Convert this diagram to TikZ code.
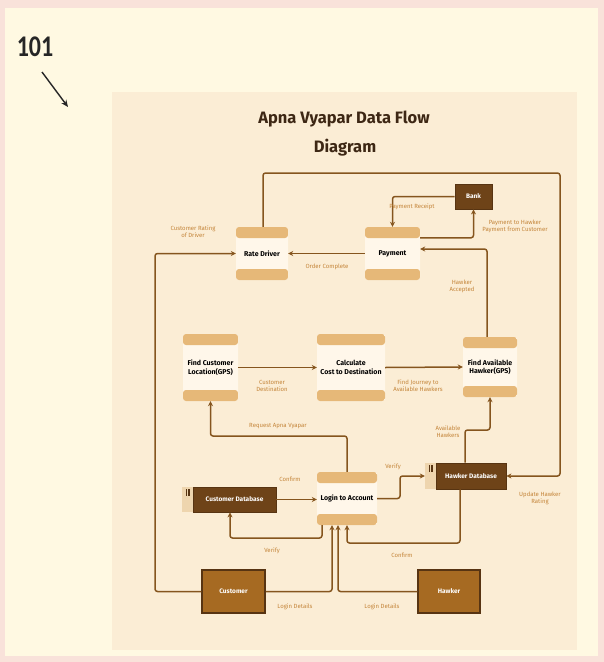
\documentclass[tikz,border=0pt]{standalone}
\usepackage{fontspec}
\setmainfont{Fira Sans}
\newfontfamily\numfont{Carlito}
\usetikzlibrary{arrows.meta,calc}
\definecolor{pinkbg}{HTML}{F9E2DA}
\definecolor{creambg}{HTML}{FFF9E2}
\definecolor{panelbg}{HTML}{FBEDD5}
\definecolor{titlec}{HTML}{3D2714}
\definecolor{barc}{HTML}{E6B878}
\definecolor{midc}{HTML}{FFF7EA}
\definecolor{linec}{HTML}{85551E}
\definecolor{labc}{HTML}{C4853A}
\definecolor{dbc}{HTML}{6E4318}
\definecolor{entc}{HTML}{A66A22}
\definecolor{entb}{HTML}{573412}
\definecolor{tabc}{HTML}{EED5AE}
\begin{document}
\begin{tikzpicture}[x=1pt,y=-1pt,
  proc/.style={rectangle, rounded corners=3pt, fill=midc, inner sep=0pt, align=center,
    font=\fontsize{7}{8.5}\selectfont\bfseries, text=black,
    path picture={
      \fill[barc] (path picture bounding box.north west) rectangle ([yshift=-11pt]path picture bounding box.north east);
      \fill[barc] (path picture bounding box.south west) rectangle ([yshift=11pt]path picture bounding box.south east);}},
  store/.style={rectangle, fill=dbc, draw=entb, line width=0.8pt, inner sep=0pt, text=white,
    font=\fontsize{6.5}{8}\selectfont\bfseries},
  storetab/.style={rectangle, fill=tabc, inner sep=0pt},
  entity/.style={rectangle, fill=entc, draw=entb, line width=1.5pt, inner sep=0pt, text=white,
    font=\fontsize{6.5}{8}\selectfont\bfseries},
  flow/.style={draw=linec, line width=1.5pt, rounded corners=2.5pt,
    -{Stealth[length=5pt,width=5pt]}},
  lab/.style={font=\fontsize{6}{7}\selectfont, text=labc, inner sep=0pt, align=center}
]
% backgrounds
\fill[pinkbg] (0,0) rectangle (604,662);
\fill[creambg] (5,8) rectangle (598,656);
\fill[panelbg] (112,92) rectangle (577,650);
\useasboundingbox (0,0) rectangle (604,662);

% reference mark
\node[font=\numfont\bfseries\fontsize{30}{30}\selectfont, text=black!85, xscale=0.8, inner sep=0pt] (n101) at (35,47) {101};
\coordinate (a101) at (42,72);
\coordinate (b101) at (68,107);
\draw[line width=1.4pt, color=black!85, -{Stealth[length=7pt,width=6pt]}] (a101) -- (b101);

% title
\node[font=\fontsize{16.5}{19}\selectfont\bfseries, text=titlec] (t1) at (344,119) {Apna Vyapar Data Flow};
\node[font=\fontsize{16.5}{19}\selectfont\bfseries, text=titlec] (t2) at (345,148) {Diagram};

% processes
\node[proc, minimum width=52pt, minimum height=53pt] (rate) at (262,253.5) {Rate Driver};
\node[proc, minimum width=55pt, minimum height=53pt] (pay) at (392.5,253.5) {Payment};
\node[proc, minimum width=55pt, minimum height=67pt] (fcl) at (210.5,367.5) {Find Customer\\Location(GPS)};
\node[proc, minimum width=68pt, minimum height=67pt] (calc) at (351,367.5) {Calculate\\Cost to Destination};
\node[proc, minimum width=54pt, minimum height=60pt] (fah) at (490,367) {Find Available\\Hawker(GPS)};
\node[proc, minimum width=60pt, minimum height=53pt] (login) at (347,498.5) {Login to Account};

% stores
\node[store, minimum width=37pt, minimum height=25pt] (bank) at (473.5,196.5) {Bank};
\node[store, minimum width=83pt, minimum height=25pt] (cdb) at (234.5,499.5) {Customer Database};
\node[storetab, minimum width=11pt, minimum height=25pt] (cdbtab) at (187.5,499.5) {};
\node[store, minimum width=70pt, minimum height=26pt] (hdb) at (471,476) {Hawker Database};
\node[storetab, minimum width=11pt, minimum height=26pt] (hdbtab) at (430.5,476) {};
\fill[entb] ([yshift=-2.5pt,xshift=-2pt]cdbtab.north) rectangle ++(1.6,7);
\fill[entb] ([yshift=-2.5pt,xshift=0.6pt]cdbtab.north) rectangle ++(1.6,7);
\fill[entb] ([yshift=-2.5pt,xshift=-2pt]hdbtab.north) rectangle ++(1.6,7);
\fill[entb] ([yshift=-2.5pt,xshift=0.6pt]hdbtab.north) rectangle ++(1.6,7);

% external entities
\node[entity, minimum width=63pt, minimum height=43pt] (cust) at (233.5,591.5) {Customer};
\node[entity, minimum width=62pt, minimum height=43pt] (hawk) at (449,591.5) {Hawker};

% helper coordinates
\coordinate (k2) at (560,173);
\coordinate (k3) at (155,591.5);
\coordinate (k9) at (0,436);
\coordinate (k11) at (0,538);
\coordinate (k12) at (400,0);
\coordinate (k13) at (0,430);
\coordinate (k14) at (0,543);

% flows
\draw[flow] (pay.west) -- (rate.east);
\draw[flow] ([xshift=1pt]rate.north) |- (k2) |- (hdb.east);
\draw[flow] (cust.west) -- (k3) |- (rate.west);
\draw[flow] (bank.west) -| (pay.north);
\draw[flow] ([yshift=-11pt]pay.north east) -| (bank.south);
\draw[flow] ([xshift=-3pt]fah.north) |- ([yshift=4.5pt]pay.east);
\draw[flow] (fcl.east) -- (calc.west);
\draw[flow] (calc.east) -- (fah.west);
\draw[flow] (login.north) -- (login.north |- k9) -| (fcl.south);
\draw[flow] (cdb.east) -- (login.west |- cdb.east);
\draw[flow] ([xshift=-25pt]login.south) -- ([xshift=-25pt]login.south |- k11) -| ([xshift=-4.5pt]cdb.south);
\draw[flow] (login.east) -- (login.east -| k12) |- (hdbtab.west);
\draw[flow] ([xshift=-6pt]hdb.north) -- ([xshift=-6pt]hdb.north |- k13) -| (fah.south);
\draw[flow] ([xshift=-11pt]hdb.south) -- ([xshift=-11pt]hdb.south |- k14) -| (login.south);
\draw[flow] (cust.east) -| ([xshift=-15pt]login.south);
\draw[flow] (hawk.west) -| ([xshift=-9pt]login.south);

% labels
\node[lab] (l1) at (193,232) {Customer Rating\\of Driver};
\node[lab] (l2) at (327,267) {Order Complete};
\node[lab] (l3) at (412,207) {Payment Receipt};
\node[lab] (l4) at (515,226) {Payment to Hawker\\Payment from Customer};
\node[lab] (l5) at (462,286) {Hawker\\Accepted};
\node[lab] (l6) at (272,385.5) {Customer\\Destination};
\node[lab] (l7) at (418,385.5) {Find Journey to\\Available Hawkers};
\node[lab] (l8) at (278,426) {Request Apna Vyapar};
\node[lab] (l9) at (290,479) {Confirm};
\node[lab] (l10) at (272,551) {Verify};
\node[lab] (l11) at (393,467) {Verify};
\node[lab] (l12) at (448,432) {Available\\Hawkers};
\node[lab] (l13) at (540,498) {Update Hawker\\Rating};
\node[lab] (l14) at (402,555) {Confirm};
\node[lab] (l15) at (295,607) {Login Details};
\node[lab] (l16) at (382,607) {Login Details};
\end{tikzpicture}
\end{document}
